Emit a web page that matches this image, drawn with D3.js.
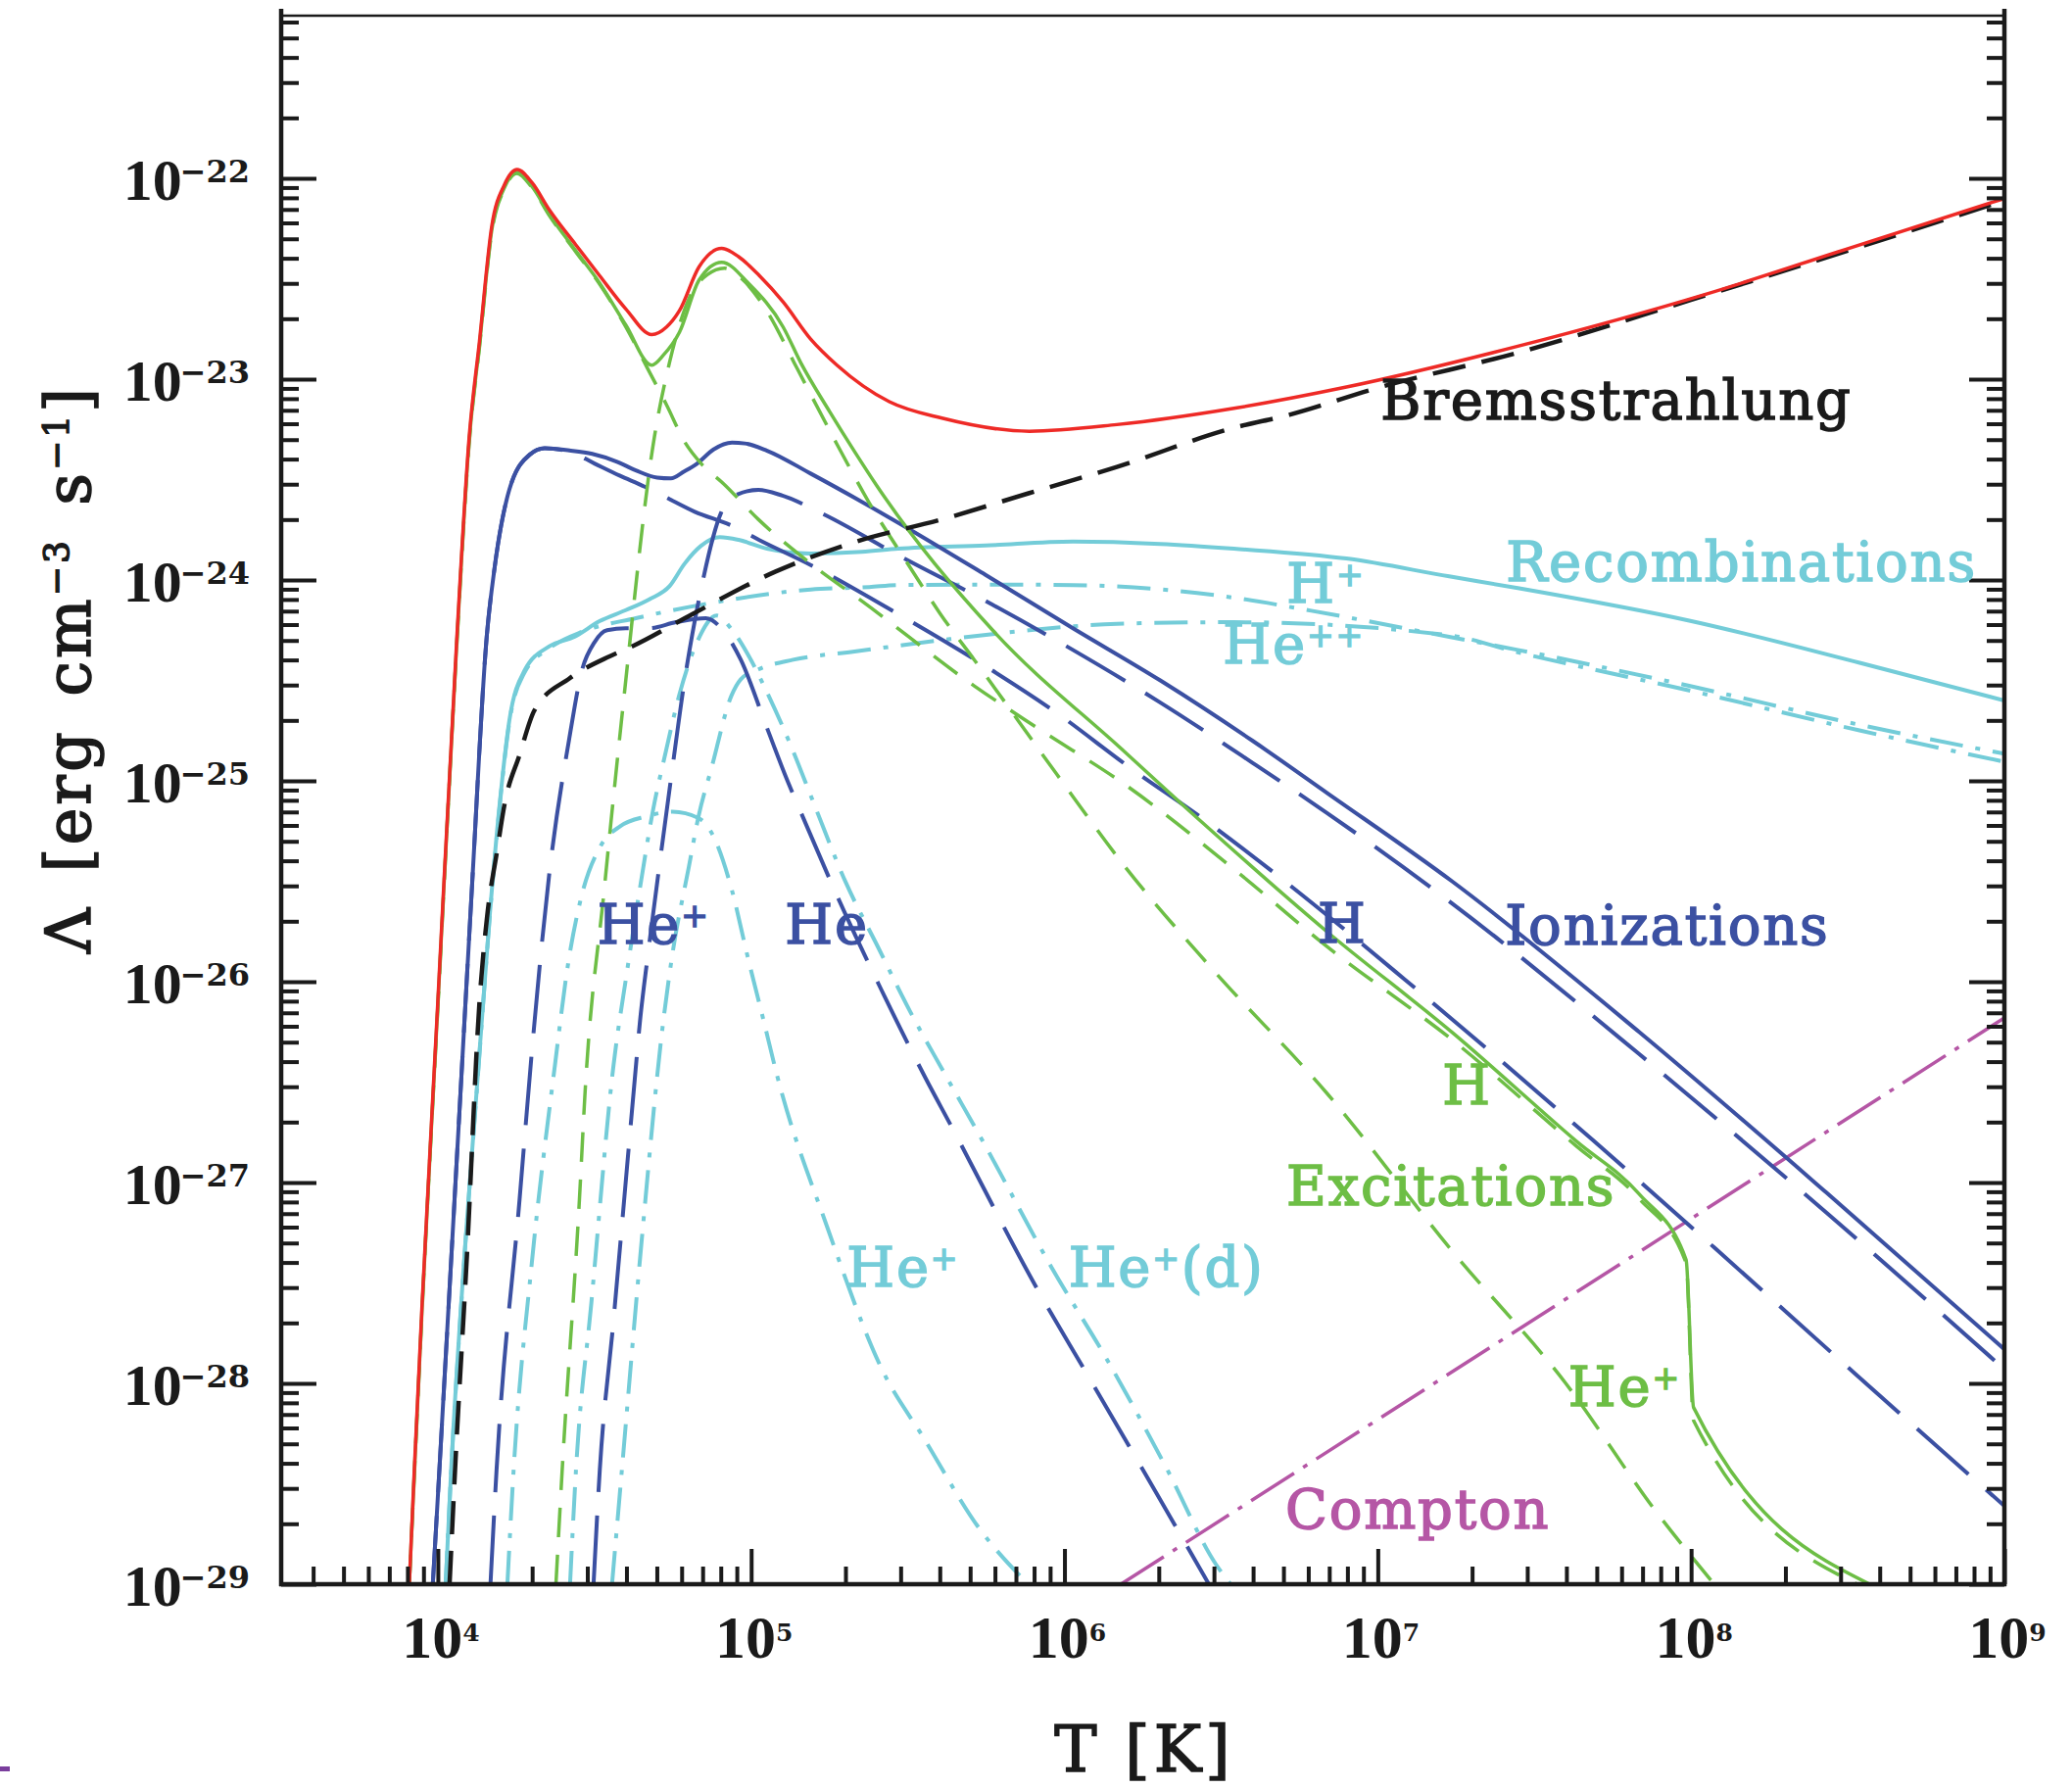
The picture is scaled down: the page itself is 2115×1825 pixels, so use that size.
<!DOCTYPE html>
<html>
<head>
<meta charset="utf-8">
<script src="https://cdn.jsdelivr.net/npm/d3@7"></script>
<style>
  body { margin: 0; background: #fff; }
  text { font-family: "DejaVu Serif", serif; }
</style>
</head>
<body>
<div id="chart"></div>
<script>
// all values are [log10 T (K), log10 Lambda (erg cm^3 s^-1)]
var totalCooling = [[3.909,-29.0],[3.925,-28.43],[3.95,-27.6],[4.0,-26.1],[4.061,-24.28],[4.10,-23.29],[4.133,-22.81],[4.172,-22.24],[4.213,-22.03],[4.253,-21.956],[4.3,-22.02],[4.356,-22.157],[4.44,-22.33],[4.516,-22.484],[4.6,-22.65],[4.683,-22.778],[4.73,-22.74],[4.771,-22.659],[4.834,-22.44],[4.906,-22.349],[4.96,-22.39],[5.026,-22.484],[5.102,-22.615],[5.19,-22.80],[5.274,-22.93],[5.441,-23.112],[5.609,-23.194],[5.888,-23.259],[6.167,-23.226],[6.541,-23.145],[6.9,-23.039],[7.447,-22.836],[8.049,-22.576],[8.5,-22.35],[9.0,-22.10]];

var bremsstrahlung = [[4.0375,-29.0],[4.055,-28.43],[4.093,-27.36],[4.133,-26.10],[4.157,-25.68],[4.189,-25.35],[4.2125,-25.12],[4.261,-24.87],[4.308,-24.65],[4.42,-24.49],[4.548,-24.38],[4.618,-24.332],[4.813,-24.169],[5.078,-23.958],[5.33,-23.811],[5.609,-23.698],[5.888,-23.567],[6.167,-23.437],[6.541,-23.242],[6.718,-23.177],[6.991,-23.047],[7.447,-22.868],[7.994,-22.608],[8.5,-22.36],[9.0,-22.11]];

var excitationTotal = [[3.909,-29.0],[3.925,-28.45],[3.95,-27.62],[4.0,-26.12],[4.061,-24.30],[4.10,-23.31],[4.133,-22.83],[4.172,-22.26],[4.213,-22.045],[4.253,-21.972],[4.3,-22.04],[4.356,-22.18],[4.44,-22.36],[4.516,-22.52],[4.6,-22.73],[4.683,-22.93],[4.72,-22.88],[4.771,-22.767],[4.834,-22.506],[4.906,-22.418],[4.994,-22.527],[5.102,-22.74],[5.159,-22.92],[5.25,-23.16],[5.33,-23.36],[5.401,-23.53],[5.771,-24.25],[6.19,-24.852],[6.439,-25.206],[6.838,-25.751],[7.237,-26.252],[7.635,-26.796],[7.834,-27.057],[7.984,-27.384],[8.008,-28.12],[8.57,-29.0]];

var excitationH = [[3.909,-29.0],[3.925,-28.46],[3.95,-27.63],[4.0,-26.13],[4.061,-24.31],[4.10,-23.32],[4.133,-22.84],[4.172,-22.27],[4.213,-22.05],[4.253,-21.975],[4.3,-22.045],[4.356,-22.185],[4.44,-22.365],[4.516,-22.525],[4.6,-22.74],[4.674,-22.96],[4.73,-23.128],[4.786,-23.307],[4.841,-23.421],[4.911,-23.519],[5.023,-23.698],[5.2,-23.93],[5.353,-24.104],[5.712,-24.527],[5.915,-24.738],[6.19,-25.015],[6.549,-25.45],[6.838,-25.825],[7.237,-26.289],[7.635,-26.82],[7.834,-27.08],[7.984,-27.40],[8.008,-28.185],[8.53,-29.0]];

var excitationHeP = [[4.377,-29.0],[4.397,-28.43],[4.452,-27.083],[4.47,-26.55],[4.531,-25.543],[4.593,-24.6],[4.691,-23.29],[4.739,-22.92],[4.803,-22.593],[4.86,-22.48],[4.915,-22.447],[4.97,-22.5],[5.05,-22.66],[5.148,-22.95],[5.274,-23.324],[5.377,-23.616],[5.509,-23.941],[5.604,-24.169],[5.712,-24.397],[5.975,-24.966],[6.19,-25.421],[6.465,-25.925],[6.838,-26.556],[7.237,-27.34],[7.6,-28.0],[7.889,-28.64],[8.074,-29.0]];

var ionizationTotal = [[3.984,-29.0],[4.005,-28.43],[4.07,-26.62],[4.11,-25.5],[4.156,-24.283],[4.181,-23.941],[4.228,-23.551],[4.293,-23.376],[4.341,-23.344],[4.42,-23.355],[4.493,-23.372],[4.57,-23.41],[4.632,-23.454],[4.70,-23.49],[4.744,-23.494],[4.786,-23.46],[4.827,-23.421],[4.88,-23.35],[4.939,-23.316],[4.98,-23.32],[5.051,-23.356],[5.19,-23.47],[5.469,-23.714],[5.748,-23.974],[6.027,-24.24],[6.306,-24.50],[6.6,-24.80],[6.838,-25.06],[7.237,-25.50],[7.834,-26.25],[8.432,-27.05],[9.0,-27.83]];

var ionizationH = [[3.984,-29.0],[4.005,-28.43],[4.07,-26.62],[4.11,-25.5],[4.156,-24.283],[4.181,-23.941],[4.228,-23.551],[4.293,-23.376],[4.341,-23.344],[4.42,-23.36],[4.5,-23.42],[4.58,-23.48],[4.66,-23.535],[4.723,-23.584],[4.82,-23.66],[4.939,-23.73],[5.026,-23.801],[5.19,-23.925],[5.469,-24.169],[5.748,-24.429],[5.971,-24.657],[6.208,-24.933],[6.446,-25.193],[6.692,-25.486],[7.087,-25.99],[7.685,-26.787],[8.08,-27.332],[8.522,-27.95],[9.0,-28.61]];

var ionizationHe = [[4.168,-29.0],[4.1875,-28.43],[4.261,-27.083],[4.30,-26.35],[4.356,-25.459],[4.42,-24.785],[4.46,-24.45],[4.50,-24.31],[4.54,-24.25],[4.60,-24.24],[4.674,-24.24],[4.76,-24.21],[4.855,-24.19],[4.91,-24.25],[4.967,-24.397],[5.051,-24.738],[5.116,-25.0],[5.16,-25.161],[5.28,-25.592],[5.405,-26.006],[5.556,-26.478],[5.637,-26.714],[5.915,-27.535],[6.067,-27.941],[6.25,-28.429],[6.461,-29.0]];

var ionizationHeP = [[4.497,-29.0],[4.517,-28.43],[4.56,-27.7],[4.629,-26.478],[4.645,-26.201],[4.671,-25.86],[4.71,-25.389],[4.749,-24.933],[4.785,-24.527],[4.841,-24.039],[4.904,-23.665],[4.953,-23.576],[5.023,-23.551],[5.1,-23.58],[5.232,-23.673],[5.469,-23.876],[5.748,-24.104],[6.027,-24.348],[6.306,-24.61],[6.6,-24.91],[6.838,-25.16],[7.237,-25.61],[7.834,-26.36],[8.432,-27.15],[9.0,-27.93]];

var recombTotal = [[4.025,-29.0],[4.0425,-28.43],[4.085,-27.363],[4.125,-26.522],[4.165,-25.683],[4.197,-25.122],[4.228,-24.702],[4.277,-24.45],[4.356,-24.33],[4.436,-24.283],[4.516,-24.205],[4.6,-24.15],[4.675,-24.096],[4.74,-24.03],[4.787,-23.92],[4.84,-23.83],[4.90,-23.787],[4.96,-23.80],[5.051,-23.844],[5.19,-23.868],[5.353,-23.86],[5.469,-23.844],[5.748,-23.828],[6.027,-23.808],[6.306,-23.82],[6.541,-23.844],[6.9,-23.893],[7.228,-23.982],[7.447,-24.04],[7.994,-24.202],[8.541,-24.413],[9.0,-24.6]];

var recombHP = [[4.025,-29.0],[4.0425,-28.44],[4.085,-27.373],[4.125,-26.532],[4.165,-25.693],[4.197,-25.132],[4.228,-24.712],[4.277,-24.46],[4.356,-24.34],[4.465,-24.255],[4.632,-24.19],[4.911,-24.104],[5.19,-24.047],[5.377,-24.035],[5.469,-24.025],[5.831,-24.023],[6.027,-24.025],[6.31,-24.047],[6.541,-24.088],[6.788,-24.153],[7.228,-24.283],[7.447,-24.348],[7.994,-24.527],[8.541,-24.722],[9.0,-24.865]];

var recombHePP = [[4.556,-29.0],[4.5875,-28.43],[4.65,-27.3],[4.718,-26.218],[4.749,-25.86],[4.801,-25.43],[4.832,-25.177],[4.874,-24.933],[4.937,-24.576],[4.967,-24.494],[5.023,-24.445],[5.134,-24.397],[5.33,-24.356],[5.609,-24.299],[5.888,-24.25],[6.167,-24.218],[6.541,-24.21],[7.228,-24.275],[7.447,-24.36],[7.994,-24.55],[8.541,-24.75],[9.0,-24.905]];

var recombHeP = [[4.222,-29.0],[4.242,-28.43],[4.30,-27.4],[4.374,-26.413],[4.416,-25.909],[4.457,-25.584],[4.52,-25.323],[4.582,-25.226],[4.666,-25.177],[4.749,-25.153],[4.832,-25.185],[4.874,-25.259],[4.937,-25.535],[4.989,-25.876],[5.041,-26.201],[5.082,-26.462],[5.242,-27.218],[5.421,-27.941],[5.55,-28.27],[5.728,-28.722],[5.884,-29.0]];

var recombHePd = [[4.422,-29.0],[4.441,-28.43],[4.49,-27.6],[4.561,-26.413],[4.603,-25.958],[4.645,-25.535],[4.687,-25.145],[4.728,-24.852],[4.77,-24.576],[4.83,-24.3],[4.89,-24.177],[4.94,-24.25],[5.0,-24.40],[5.041,-24.527],[5.134,-24.852],[5.197,-25.10],[5.301,-25.502],[5.405,-25.828],[5.509,-26.153],[5.613,-26.445],[5.744,-26.807],[5.959,-27.423],[6.139,-27.89],[6.328,-28.429],[6.483,-28.9],[6.53,-29.0]];

var compton = [[6.18,-29.0],[9.0,-26.18]];

var xMajorExp = [4, 5, 6, 7, 8, 9];
var yMajorExp = [-29, -28, -27, -26, -25, -24, -23, -22];

// label text and anchor point [log T, log Lambda]
var curveLabels = [
  {parts: [["Bremsstrahlung"]], at: [7.009, -23.2], color: "#1a1a1a"},
  {parts: [["Recombinations"]], at: [7.409, -24.005], color: "#73ccd8"},
  {parts: [["H"], ["+", true]], at: [6.709, -24.112], color: "#73ccd8"},
  {parts: [["He"], ["++", true]], at: [6.506, -24.413], color: "#73ccd8"},
  {parts: [["Ionizations"]], at: [7.406, -25.815], color: "#3b50a2"},
  {parts: [["H"]], at: [6.808, -25.805], color: "#3b50a2"},
  {parts: [["He"], ["+", true]], at: [4.509, -25.811], color: "#3b50a2"},
  {parts: [["He"]], at: [5.108, -25.811], color: "#3b50a2"},
  {parts: [["H"]], at: [7.206, -26.61], color: "#6dbe45"},
  {parts: [["Excitations"]], at: [6.708, -27.112], color: "#6dbe45"},
  {parts: [["He"], ["+", true]], at: [7.608, -28.112], color: "#6dbe45"},
  {parts: [["He"], ["+", true]], at: [5.305, -27.516], color: "#73ccd8"},
  {parts: [["He"], ["+", true], ["(d)"]], at: [6.013, -27.516], color: "#73ccd8"},
  {parts: [["Compton"]], at: [6.705, -28.722], color: "#b556a5"}
];

var svgWidth = 2115;
var svgHeight = 1825;
var plot = {left: 287, right: 2046, top: 16, bottom: 1617};

var svg = d3.select("#chart").append("svg")
    .attr("width", svgWidth)
    .attr("height", svgHeight)
    .style("display", "block");

svg.append("rect").attr("width", svgWidth).attr("height", svgHeight).attr("fill", "#fff");

var x = d3.scaleLog().domain([Math.pow(10, 3.5), 1e9]).range([plot.left, plot.right]);
var y = d3.scaleLog().domain([1e-29, Math.pow(10, -21.19)]).range([plot.bottom, plot.top]);

svg.append("clipPath").attr("id", "plotclip")
  .append("rect")
    .attr("x", plot.left).attr("y", plot.top)
    .attr("width", plot.right - plot.left).attr("height", plot.bottom - plot.top);

var line = d3.line()
    .x(d => x(Math.pow(10, d[0])))
    .y(d => y(Math.pow(10, d[1])))
    .curve(d3.curveMonotoneX);

var blue = "#3b50a2", cyan = "#73ccd8", green = "#6dbe45";
var dashDot = "34,13,5,13";

// draw order: back to front
var curves = [
  {data: compton, color: "#b556a5", width: 3.5, dash: "52,11,5,11"},
  {data: recombHePd, color: cyan, width: 4, dash: dashDot},
  {data: recombHeP, color: cyan, width: 4, dash: dashDot},
  {data: recombHePP, color: cyan, width: 4, dash: dashDot},
  {data: recombHP, color: cyan, width: 4, dash: dashDot},
  {data: recombTotal, color: cyan, width: 4, dash: null},
  {data: ionizationHeP, color: blue, width: 4, dash: "70,24"},
  {data: ionizationHe, color: blue, width: 4, dash: "70,24"},
  {data: ionizationH, color: blue, width: 4, dash: "70,24"},
  {data: ionizationTotal, color: blue, width: 4, dash: null},
  {data: excitationHeP, color: green, width: 3.5, dash: "30,18"},
  {data: excitationH, color: green, width: 3.5, dash: "30,18"},
  {data: excitationTotal, color: green, width: 3.5, dash: null},
  {data: bremsstrahlung, color: "#1a1a1a", width: 4.5, dash: "34,17"},
  {data: totalCooling, color: "#ee2a26", width: 3.5, dash: null}
];

var curveGroup = svg.append("g").attr("clip-path", "url(#plotclip)");
curveGroup.selectAll("path")
  .data(curves)
  .enter()
  .append("path")
    .attr("d", d => line(d.data))
    .attr("fill", "none")
    .attr("stroke", d => d.color)
    .attr("stroke-width", d => d.width)
    .attr("stroke-dasharray", d => d.dash)
    .attr("stroke-linejoin", "round");

// ticks
var xMajor = xMajorExp.map(e => Math.pow(10, e));
var xMinor = [];
for (var e = 3; e < 9; e++) {
  for (var m = 2; m <= 9; m++) {
    var v = m * Math.pow(10, e);
    if (v > x.domain()[0] && v < 1e9) xMinor.push(v);
  }
}
var yMajor = yMajorExp.map(e => Math.pow(10, e));
var yMinor = [];
for (var e = -29; e < -21; e++) {
  for (var m = 2; m <= 9; m++) {
    var v = m * Math.pow(10, e);
    if (v < y.domain()[1]) yMinor.push(v);
  }
}

function styleTicks(g) {
  g.select(".domain").remove();
  g.selectAll(".tick line").attr("stroke", "#1a1a1a").attr("stroke-width", 4);
  g.selectAll(".tick text").remove();
}

svg.append("g").attr("transform", `translate(0,${plot.bottom})`)
  .call(d3.axisBottom(x).tickValues(xMajor).tickSize(-36).tickFormat(""))
  .call(styleTicks);
svg.append("g").attr("transform", `translate(0,${plot.bottom})`)
  .call(d3.axisBottom(x).tickValues(xMinor).tickSize(-18).tickFormat(""))
  .call(styleTicks);
svg.append("g").attr("transform", `translate(${plot.left},0)`)
  .call(d3.axisLeft(y).tickValues(yMajor).tickSize(-36).tickFormat(""))
  .call(styleTicks);
svg.append("g").attr("transform", `translate(${plot.left},0)`)
  .call(d3.axisLeft(y).tickValues(yMinor).tickSize(-18).tickFormat(""))
  .call(styleTicks);
svg.append("g").attr("transform", `translate(${plot.right},0)`)
  .call(d3.axisRight(y).tickValues(yMajor).tickSize(-36).tickFormat(""))
  .call(styleTicks);
svg.append("g").attr("transform", `translate(${plot.right},0)`)
  .call(d3.axisRight(y).tickValues(yMinor).tickSize(-18).tickFormat(""))
  .call(styleTicks);

// frame
var frame = svg.append("g").attr("stroke", "#1a1a1a").attr("fill", "none");
frame.append("line").attr("x1", plot.left).attr("x2", plot.left).attr("y1", plot.top - 7).attr("y2", plot.bottom + 2).attr("stroke-width", 4.5);
frame.append("line").attr("x1", plot.right).attr("x2", plot.right).attr("y1", plot.top - 7).attr("y2", plot.bottom + 2).attr("stroke-width", 4.5);
frame.append("line").attr("x1", plot.left - 2).attr("x2", plot.right + 2).attr("y1", plot.bottom).attr("y2", plot.bottom).attr("stroke-width", 4.5);
frame.append("line").attr("x1", plot.left).attr("x2", plot.right).attr("y1", plot.top).attr("y2", plot.top).attr("stroke-width", 2.5);

// tick labels
var yLabels = svg.append("g").attr("fill", "#1a1a1a");
yMajorExp.forEach(function(e) {
  var t = yLabels.append("text")
    .attr("x", 255)
    .attr("y", y(Math.pow(10, e)) + 22)
    .attr("text-anchor", "end");
  t.append("tspan").attr("font-family", "Liberation Serif").attr("font-weight", "bold").attr("font-size", 60).text("10");
  t.append("tspan").attr("font-weight", "bold").attr("font-size", 32).attr("dx", -2).attr("dy", -18).text("\u2212" + Math.abs(e));
});

var xLabels = svg.append("g").attr("fill", "#1a1a1a");
xMajorExp.forEach(function(e) {
  var t = xLabels.append("text")
    .attr("x", x(Math.pow(10, e)) + 3)
    .attr("y", 1692)
    .attr("text-anchor", "middle");
  t.append("tspan").attr("font-family", "Liberation Serif").attr("font-weight", "bold").attr("font-size", 62).text("10");
  t.append("tspan").attr("font-weight", "bold").attr("font-size", 25).attr("dy", -17).text(e);
});

// semi-bold look: regular face with a thin outline in the same colour
function heavy(sel, color) {
  sel.attr("fill", color)
    .attr("stroke", color)
    .attr("stroke-width", 1.5)
    .attr("paint-order", "stroke");
}

// axis titles
svg.append("text")
  .attr("x", 1168).attr("y", 1808)
  .attr("text-anchor", "middle")
  .attr("font-size", 65)
  .attr("letter-spacing", 4)
  .text("T [K]")
  .call(heavy, "#1a1a1a");

var yTitle = svg.append("text")
  .attr("transform", "translate(92,683) rotate(-90)")
  .attr("text-anchor", "middle")
  .attr("font-size", 64)
  .attr("letter-spacing", 3)
  .attr("word-spacing", 10)
  .call(heavy, "#1a1a1a");
yTitle.append("tspan").text("\u039b [erg cm");
yTitle.append("tspan").attr("font-size", 36).attr("dy", -22).text("\u22123");
yTitle.append("tspan").attr("dy", 22).text(" s");
yTitle.append("tspan").attr("font-size", 36).attr("dy", -22).text("\u22121");
yTitle.append("tspan").attr("dy", 22).text("]");

// curve labels
var labelGroup = svg.append("g");
curveLabels.forEach(function(lab) {
  var t = labelGroup.append("text")
    .attr("x", x(Math.pow(10, lab.at[0])))
    .attr("y", y(Math.pow(10, lab.at[1])))
    .attr("font-size", 56)
    .attr("letter-spacing", 1.8)
    .call(heavy, lab.color);
  var raised = false;
  lab.parts.forEach(function(p) {
    var s = t.append("tspan").text(p[0]);
    if (p[1] && !raised) { s.attr("font-size", 33).attr("dy", -17); raised = true; }
    else if (p[1]) { s.attr("font-size", 33); }
    else if (raised) { s.attr("dy", 17); raised = false; }
  });
});

// stray mark at the lower left corner of the original
svg.append("rect").attr("x", 0).attr("y", 1803).attr("width", 10).attr("height", 5).attr("fill", "#7a3e9d");
</script>
</body>
</html>
